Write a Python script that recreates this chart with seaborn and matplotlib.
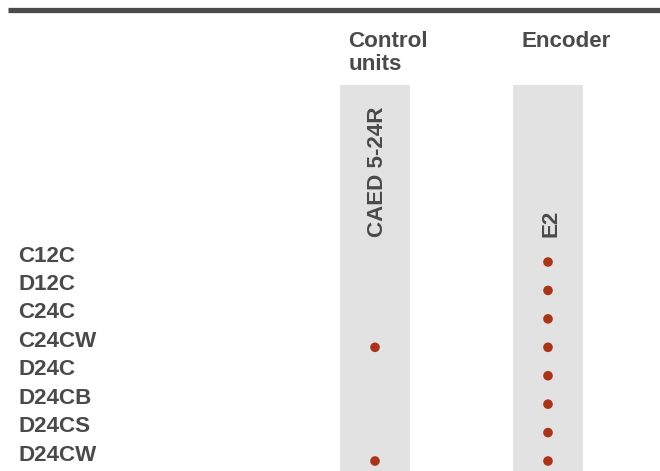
import numpy as np
import pandas as pd
import seaborn as sns
import matplotlib.pyplot as plt
from matplotlib.lines import Line2D
from matplotlib import transforms

# rows of the compatibility table
products = ['C12C', 'D12C', 'C24C', 'C24CW', 'D24C', 'D24CB', 'D24CS', 'D24CW']

# column groups and their items
groups = ['Control\nunits', 'Encoder']
accessories = ['CAED 5-24R', 'E2']

# which product works with which accessory
caed_ok = ['C24CW', 'D24CW']
e2_ok = products

TEXT = '#4a4a4a'
DOT = '#a8351a'
BAND = '#e2e2e2'
FS = 16.1

pairs = [(p, 'CAED 5-24R') for p in caed_ok] + [(p, 'E2') for p in e2_ok]
df = pd.DataFrame(pairs, columns=['product', 'accessory'])
df['row'] = df['product'].map({p: i for i, p in enumerate(products)})
df['col'] = df['accessory'].map({a: i for i, a in enumerate(accessories)})

sns.set_theme(style='white')
plt.rcParams['font.family'] = ['Liberation Sans', 'DejaVu Sans']

fig = plt.figure(figsize=(6.6, 4.71), dpi=100)
ax = fig.add_axes([0, 0, 1, 1])

# pixel layout -> data limits
col_px = 173.0
row_px = 28.43
ax.set_xlim(-375 / col_px, (660 - 375) / col_px)
ax.set_ylim((471 - 262) / row_px, -262 / row_px)

for i in range(len(accessories)):
    ax.axvspan(i - 0.2, i + 0.2, ymin=0, ymax=(471 - 85) / 471, color=BAND, lw=0, zorder=0)

sns.scatterplot(data=df, x='col', y='row', color=DOT, s=48, edgecolor='none',
                ax=ax, zorder=3, legend=False)

# row labels, nudged up a bit like in the source
nudge = transforms.ScaledTranslation(0, 6 / 100, fig.dpi_scale_trans)
lab_tr = transforms.blended_transform_factory(ax.transAxes, ax.transData) + nudge
for i, p in enumerate(products):
    ax.text(18 / 660, i, p, transform=lab_tr, ha='left', va='center',
            fontsize=FS, fontweight='bold', color=TEXT)

# rotated accessory names sitting on the band
name_tr = transforms.blended_transform_factory(ax.transData, ax.transAxes)
for i, a in enumerate(accessories):
    ax.text(i + 3 / col_px, (471 - 237) / 471, a, transform=name_tr, rotation=90,
            ha='center', va='bottom', fontsize=FS, fontweight='bold', color=TEXT)
    ax.text(i - 0.2 + 8 / col_px, (471 - 31) / 471, groups[i], transform=name_tr,
            ha='left', va='top', fontsize=FS, fontweight='bold', color=TEXT,
            linespacing=1.12)

ax.set_axis_off()

# thick rule across the top
fig.add_artist(Line2D([8 / 660, 1], [1 - 10 / 471, 1 - 10 / 471], color=TEXT,
                      lw=3.8, solid_capstyle='butt'))

fig.savefig('out.png', dpi=100)
